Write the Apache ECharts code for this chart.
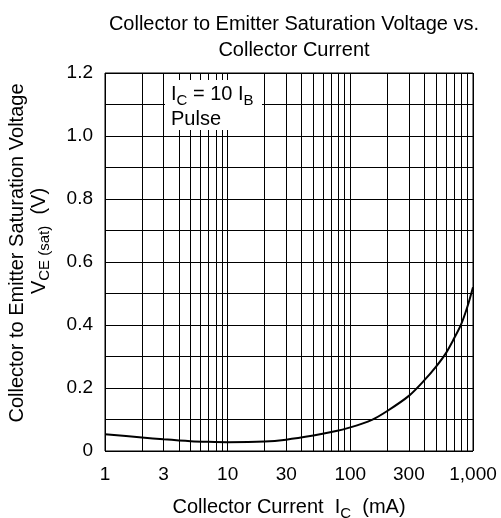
<!DOCTYPE html>
<html>
<head>
<meta charset="utf-8">
<script src="https://cdn.jsdelivr.net/npm/echarts@6/dist/echarts.min.js"></script>
<style>
  html, body { margin: 0; padding: 0; background: #fff; }
  #chart { width: 501px; height: 518px; }
</style>
</head>
<body>
<div id="chart"></div>
<script>
// collector current (mA) vs saturation voltage (V)
const currentMA = [1, 2, 3, 5, 7, 10, 20, 30, 50, 70, 100, 150, 200, 300, 400, 500, 600, 700, 800, 900, 1000]
const vceSat = [0.053, 0.043, 0.037, 0.031, 0.029, 0.028, 0.030, 0.036, 0.049, 0.060, 0.075, 0.099, 0.127, 0.175, 0.224, 0.268, 0.310, 0.357, 0.402, 0.458, 0.52]

const xGridValues = [1, 2, 3, 4, 5, 6, 7, 8, 9, 10, 20, 30, 40, 50, 60, 70, 80, 90, 100, 200, 300, 400, 500, 600, 700, 800, 900, 1000]
const xLabelValues = [1, 3, 10, 30, 100, 300, 1000]
const yLabelValues = [0, 0.2, 0.4, 0.6, 0.8, 1.0, 1.2]

const font = "Liberation Sans, Arial, sans-serif"
const chart = echarts.init(document.getElementById("chart"))

chart.setOption({
  animation: false,
  backgroundColor: "#fff",
  textStyle: { fontFamily: font },
  title: {
    text: "Collector to Emitter Saturation Voltage vs.\nCollector Current",
    left: 289,
    top: 6,
    textAlign: "center",
    textStyle: { fontFamily: font, fontSize: 20, fontWeight: "normal", color: "#000", lineHeight: 26 }
  },
  grid: {
    left: 105, right: 28, top: 73, bottom: 67,
    outerBoundsMode: "none", containLabel: false,
    show: true, borderColor: "#000", borderWidth: 1
  },
  xAxis: {
    type: "log",
    logBase: 10,
    min: 1,
    max: 1000,
    axisLine: { show: false },
    axisTick: { show: false, customValues: xGridValues },
    splitLine: { show: true, lineStyle: { color: "#000", width: 1 } },
    axisLabel: {
      customValues: xLabelValues,
      color: "#000",
      fontSize: 19,
      margin: 14,
      formatter: v => Math.round(v).toLocaleString("en-US")
    },
    name: "Collector Current  I{sub|C}  (mA)",
    nameLocation: "middle",
    nameGap: 43,
    nameTextStyle: {
      color: "#000",
      fontSize: 20,
      rich: { sub: { fontSize: 15, padding: [12, 0, 0, 0], color: "#000" } }
    }
  },
  yAxis: {
    type: "value",
    min: 0,
    max: 1.2,
    interval: 0.1,
    axisLine: { show: false },
    axisTick: { show: false },
    splitLine: { show: true, lineStyle: { color: "#000", width: 1 } },
    axisLabel: {
      customValues: yLabelValues,
      color: "#000",
      fontSize: 19,
      margin: 12,
      formatter: v => v === 0 ? "0" : v.toFixed(1)
    }
  },
  graphic: [
    {
      type: "text",
      x: 17,
      y: 253,
      rotation: Math.PI / 2,
      style: {
        text: "Collector to Emitter Saturation Voltage",
        font: "20px " + font,
        fill: "#000",
        align: "center",
        verticalAlign: "middle"
      }
    },
    {
      type: "text",
      x: 39,
      y: 241,
      rotation: Math.PI / 2,
      style: {
        text: "V{sub|CE (sat)}  (V)",
        font: "20px " + font,
        fill: "#000",
        align: "center",
        verticalAlign: "middle",
        rich: { sub: { fontSize: 15, padding: [12, 0, 0, 0], fill: "#000", fontFamily: font } }
      }
    },
    {
      type: "rect",
      shape: { x: 165, y: 80, width: 97, height: 50 },
      style: { fill: "#fff" },
      z: 10
    },
    {
      type: "text",
      x: 171,
      y: 82,
      z: 11,
      style: {
        text: "I{sub|C} = 10 I{sub|B}\nPulse",
        font: "20px " + font,
        fill: "#000",
        lineHeight: 25,
        rich: { sub: { fontSize: 15, padding: [12, 0, 0, 0], fill: "#000", fontFamily: font } }
      }
    }
  ],
  series: [
    {
      type: "line",
      data: currentMA.map((c, i) => [c, vceSat[i]]),
      smooth: 0.3,
      showSymbol: false,
      lineStyle: { color: "#000", width: 2 },
      z: 20
    }
  ]
})
</script>
</body>
</html>
